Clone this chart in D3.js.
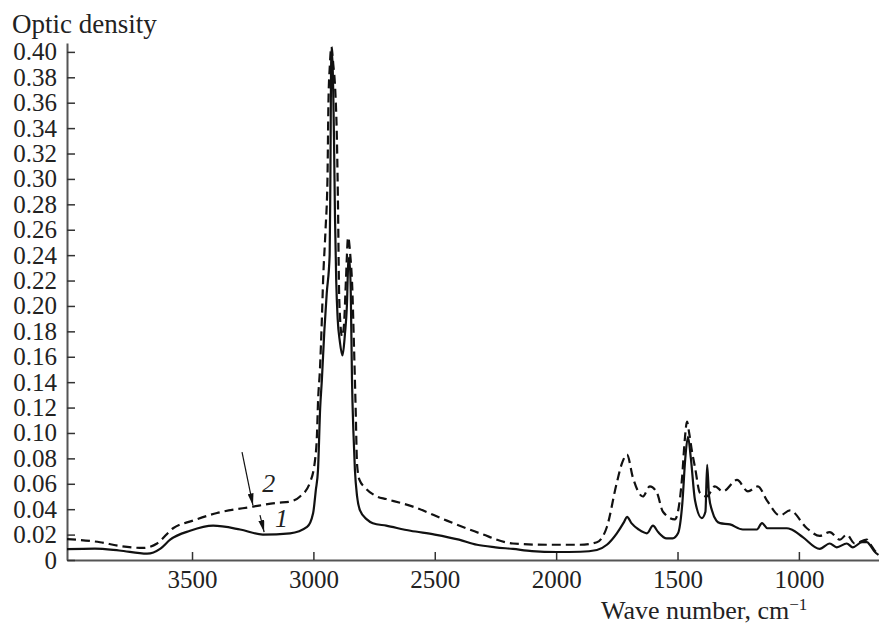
<!DOCTYPE html>
<html>
<head>
<meta charset="utf-8">
<script src="https://cdn.jsdelivr.net/npm/d3@7"></script>
<style>
  body { margin: 0; background: #fff; }
  text { font-family: "Liberation Serif", "DejaVu Serif", serif; fill: #222; }
</style>
</head>
<body>
<script>
// Curve 1 (solid): wave number, optic density
var wave1 = [4015, 3900, 3800, 3685, 3630, 3590, 3508, 3413, 3302, 3208, 3096, 3026, 3001, 2990, 2981,
  2972, 2965, 2955, 2945, 2933, 2930, 2926, 2921, 2915, 2911, 2906, 2900, 2891, 2880, 2870, 2862, 2856,
  2852, 2846, 2841, 2835, 2829, 2820, 2808, 2780, 2755, 2700, 2600, 2500, 2400, 2326, 2250, 2178, 2100,
  1997, 1900, 1832, 1791, 1750, 1720, 1708, 1690, 1660, 1626, 1601, 1580, 1545, 1520, 1498, 1480, 1468,
  1457, 1445, 1428, 1400, 1385, 1378, 1370, 1358, 1340, 1325, 1284, 1231, 1173, 1152, 1130, 1050, 1030,
  984, 914, 873, 844, 803, 778, 740, 720, 708, 690, 672];
var dens1 = [0.0085, 0.009, 0.0075, 0.005, 0.009, 0.016, 0.023, 0.027, 0.024, 0.020, 0.021, 0.026, 0.037, 0.055, 0.071,
  0.12, 0.142, 0.18, 0.21, 0.24, 0.30, 0.402, 0.39, 0.33, 0.27, 0.22, 0.19, 0.172, 0.161, 0.178, 0.20, 0.235,
  0.238, 0.21, 0.142, 0.10, 0.071, 0.05, 0.039, 0.032, 0.029, 0.027, 0.023, 0.020, 0.016, 0.012, 0.010, 0.0087, 0.007,
  0.0063, 0.0065, 0.0079, 0.012, 0.021, 0.030, 0.034, 0.029, 0.024, 0.021, 0.027, 0.022, 0.017, 0.017, 0.021, 0.045, 0.08,
  0.097, 0.08, 0.047, 0.033, 0.038, 0.075, 0.05, 0.039, 0.031, 0.029, 0.028, 0.024, 0.024, 0.029, 0.025, 0.025, 0.024,
  0.018, 0.0087, 0.013, 0.010, 0.013, 0.010, 0.014, 0.014, 0.012, 0.007, 0.004];

// Curve 2 (dashed)
var wave2 = [4015, 3879, 3797, 3702, 3644, 3578, 3496, 3397, 3249, 3150, 3096, 3055, 3014, 2993, 2985, 2981,
  2973, 2965, 2960, 2950, 2942, 2938, 2932, 2926, 2918, 2910, 2903, 2898, 2895, 2890, 2882, 2874, 2866,
  2857, 2848, 2840, 2833, 2826, 2820, 2810, 2787, 2738, 2700, 2590, 2450, 2314, 2178, 2038, 1902, 1832,
  1791, 1750, 1729, 1708, 1684, 1643, 1614, 1585, 1560, 1511, 1482, 1470, 1461, 1452, 1440, 1428, 1408,
  1380, 1346, 1313, 1255, 1210, 1169, 1132, 1078, 1037, 967, 914, 873, 831, 803, 770, 720, 708, 690, 672];
var dens2 = [0.0165, 0.014, 0.011, 0.0095, 0.013, 0.025, 0.031, 0.037, 0.042, 0.045, 0.046, 0.050, 0.061, 0.079, 0.10, 0.124,
  0.15, 0.19, 0.22, 0.26, 0.30, 0.36, 0.39, 0.404, 0.39, 0.37, 0.33, 0.27, 0.22, 0.19, 0.176, 0.185, 0.22,
  0.254, 0.24, 0.215, 0.17, 0.12, 0.075, 0.063, 0.057, 0.050, 0.048, 0.042, 0.031, 0.021, 0.013, 0.012, 0.012, 0.014,
  0.026, 0.061, 0.076, 0.083, 0.065, 0.050, 0.058, 0.053, 0.038, 0.032, 0.063, 0.095, 0.109, 0.10, 0.085, 0.073, 0.053,
  0.050, 0.058, 0.054, 0.063, 0.054, 0.058, 0.047, 0.035, 0.039, 0.025, 0.019, 0.022, 0.016, 0.020, 0.013, 0.016, 0.013, 0.008, 0.004];

var xTicks = [3500, 3000, 2500, 2000, 1500, 1000];
var yTicks = [0, 0.02, 0.04, 0.06, 0.08, 0.10, 0.12, 0.14, 0.16, 0.18, 0.20, 0.22, 0.24, 0.26, 0.28, 0.30, 0.32, 0.34, 0.36, 0.38, 0.40];

// Curve labels with arrows: [label, text wn, text od, arrow tail wn, od, arrow tip wn, od]
var labels = [
  ["2", 3211, 0.0535, 3294, 0.085, 3249, 0.043],
  ["1", 3158, 0.026, 3220, 0.0354, 3203, 0.022]
];

var W = 879, H = 625;
var xScale = d3.scaleLinear().domain([4015, 670]).range([67, 879]);
var yScale = d3.scaleLinear().domain([0, 0.407]).range([560, 43]);

var svg = d3.select('body').append('svg')
  .attr('width', W)
  .attr('height', H);

svg.append('defs').append('marker')
  .attr('id', 'arr')
  .attr('viewBox', '0 0 12 6')
  .attr('refX', 12).attr('refY', 3)
  .attr('markerWidth', 12).attr('markerHeight', 6)
  .attr('markerUnits', 'userSpaceOnUse')
  .attr('orient', 'auto')
  .append('path')
  .attr('d', 'M0,0 L12,3 L0,6 Z')
  .attr('fill', '#111');

// Axes
var xAxis = svg.append('g')
  .attr('transform', 'translate(0,560)')
  .call(d3.axisBottom(xScale).tickValues(xTicks).tickSize(-8).tickSizeOuter(0).tickPadding(10)
    .tickFormat(d3.format('d')));
var yAxis = svg.append('g')
  .attr('transform', 'translate(67,0)')
  .call(d3.axisLeft(yScale).tickValues(yTicks).tickSize(-8).tickSizeOuter(0).tickPadding(10)
    .tickFormat(function(d) { return d === 0 ? '0' : d3.format('.2f')(d); }));

[xAxis, yAxis].forEach(function(g) {
  g.select('.domain').attr('stroke', '#555').attr('stroke-width', 2);
  g.selectAll('.tick line').attr('stroke', '#333').attr('stroke-width', 1.5);
  g.selectAll('.tick text')
    .attr('font-family', '"Liberation Serif", serif')
    .attr('font-size', 25)
    .attr('fill', '#222');
});

var drawLine = d3.line()
  .x(function(d) { return xScale(d[0]); })
  .y(function(d) { return yScale(d[1]); })
  .curve(d3.curveMonotoneX);

svg.append('path')
  .attr('d', drawLine(d3.zip(wave2, dens2)))
  .attr('fill', 'none')
  .attr('stroke', '#111')
  .attr('stroke-width', 2.2)
  .attr('stroke-dasharray', '9,5');

svg.append('path')
  .attr('d', drawLine(d3.zip(wave1, dens1)))
  .attr('fill', 'none')
  .attr('stroke', '#111')
  .attr('stroke-width', 2.2);

// Curve labels
labels.forEach(function(l) {
  svg.append('line')
    .attr('x1', xScale(l[3])).attr('y1', yScale(l[4]))
    .attr('x2', xScale(l[5])).attr('y2', yScale(l[6]))
    .attr('stroke', '#111').attr('stroke-width', 1.2)
    .attr('marker-end', 'url(#arr)');
  svg.append('text')
    .attr('x', xScale(l[1])).attr('y', yScale(l[2]))
    .attr('font-size', 26)
    .attr('font-style', 'italic')
    .text(l[0]);
});

// Titles
svg.append('text')
  .attr('x', 12).attr('y', 33)
  .attr('font-size', 27)
  .text('Optic density');

var xt = svg.append('text')
  .attr('x', 601).attr('y', 619)
  .attr('font-size', 26);
xt.append('tspan').text('Wave number, cm');
xt.append('tspan').attr('dy', -9).attr('font-size', 17).text('\u22121');
</script>
</body>
</html>
